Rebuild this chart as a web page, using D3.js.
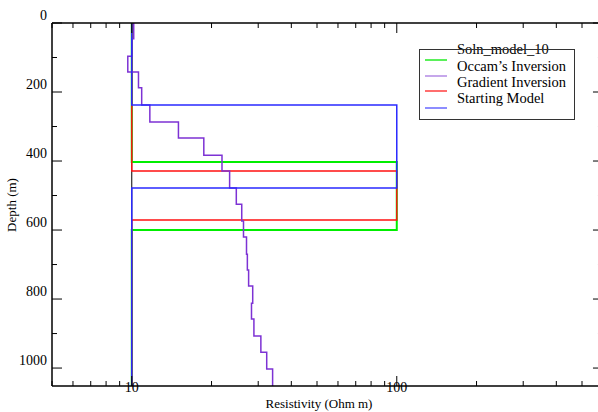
<!DOCTYPE html>
<html><head><meta charset="utf-8">
<script src="https://cdn.jsdelivr.net/npm/d3@7"></script>
<style>
html,body{margin:0;padding:0;background:#fff;overflow:hidden}
text{font-family:"Liberation Serif","Times New Roman",serif;fill:#000}
</style></head>
<body><svg id="c" width="598" height="412"></svg>
<script>
// ---- data ----
const gradientDepths = [0,46,96,142,188,238,287,333,383,429,478,525,574,620,670,716,762,812,858,907,954,1003,1052];
const gradientRes    = [10.17,10.0,9.66,10.6,10.9,11.7,15.0,18.7,21.9,23.4,24.8,26.0,26.4,27.1,27.3,27.6,28.6,28.3,28.9,30.7,32.3,34.0];
const occamDepths    = [0,403,600,1052];
const occamRes       = [10,100,10];
const soln10Depths   = [0,1052];
const soln10Res      = [10];
const startDepths    = [0,238,478,1052];
const startRes       = [10,100,10];
const redDepths      = [0,429,571,1052];
const redRes         = [10,100,10];
const yTicksMajor    = [0,200,400,600,800,1000];
const xTickLabels    = [10,100];
const legendLabels   = ["Soln_model_10","Occam\u2019s Inversion","Gradient Inversion","Starting Model"];
const legendColors   = ["#00e800","#a878e0","#ff2020","#5050ff"];

// ---- layout ----
const svg = d3.select("#c");
const L = 52, T = 23, B = 386;
const x = d3.scaleLog().domain([5, 600]).range([L, L + 265 * Math.log10(600/5)]);
const y = d3.scaleLinear().domain([0, 1052]).range([T, B]);
const R = x.range()[1];

function steps(depths, res){
  const pts = [];
  res.forEach((r,i)=>{ pts.push([r, depths[i]]); pts.push([r, depths[i+1]]); });
  return pts;
}
const line = d3.line().x(d=>x(d[0])).y(d=>y(d[1]));

const g = svg.append("g");
// model curves
const series = [
  {d:soln10Depths, r:soln10Res, c:"#000", w:1},
  {d:occamDepths, r:occamRes, c:"#00ee00", w:2},
  {d:redDepths, r:redRes, c:"#ff1010", w:1.4},
  {d:gradientDepths, r:gradientRes, c:"#7d32d4", w:1.5},
  {d:startDepths, r:startRes, c:"#2a2aff", w:1.5}
];
series.forEach(s=>{
  g.append("path").attr("d", line(steps(s.d, s.r)))
   .attr("fill","none").attr("stroke", s.c).attr("stroke-width", s.w);
});

// axes frame
const ax = svg.append("g").attr("stroke","#000").attr("stroke-width",1.5);
ax.append("line").attr("x1",L).attr("x2",L).attr("y1",T).attr("y2",B);
ax.append("line").attr("x1",L).attr("x2",R).attr("y1",T).attr("y2",T);
ax.append("line").attr("x1",L).attr("x2",R).attr("y1",B).attr("y2",B);
ax.append("line").attr("x1",R).attr("x2",R).attr("y1",T).attr("y2",B);

// y ticks
const yMinor = d3.range(100, 1052, 200);
const tk = svg.append("g").attr("stroke","#000").attr("stroke-width",1);
yTicksMajor.forEach(v=>{
  tk.append("line").attr("x1",L).attr("x2",L+10).attr("y1",y(v)).attr("y2",y(v));
  tk.append("line").attr("x1",R).attr("x2",R-10).attr("y1",y(v)).attr("y2",y(v));
});
yMinor.forEach(v=>{
  tk.append("line").attr("x1",L).attr("x2",L+5).attr("y1",y(v)).attr("y2",y(v));
  tk.append("line").attr("x1",R).attr("x2",R-5).attr("y1",y(v)).attr("y2",y(v));
});
// x ticks
const xAll = x.ticks();
xAll.forEach(v=>{
  const major = (v===10 || v===100);
  const len = major ? 10 : 5;
  tk.append("line").attr("x1",x(v)).attr("x2",x(v)).attr("y1",B).attr("y2",B-len);
  tk.append("line").attr("x1",x(v)).attr("x2",x(v)).attr("y1",T).attr("y2",T+len);
});

// labels
const lab = svg.append("g").attr("font-size","14px");
yTicksMajor.forEach(v=>{
  lab.append("text").attr("x",47).attr("y",y(v)-3).attr("text-anchor","end").text(v);
});
xTickLabels.forEach(v=>{
  lab.append("text").attr("x",x(v)).attr("y",392).attr("text-anchor","middle").text(v);
});
lab.append("text").attr("x",319).attr("y",408).attr("text-anchor","middle").attr("font-size","13px").text("Resistivity (Ohm m)");
lab.append("text").attr("transform","translate(16,205) rotate(-90)").attr("text-anchor","middle").attr("font-size","13px").text("Depth (m)");

// legend
const lg = svg.append("g");
lg.append("rect").attr("x",419.5).attr("y",49.5).attr("width",155).attr("height",70)
  .attr("fill","none").attr("stroke","#333").attr("stroke-width",1);
const lineYs = [60,76,91,108];
const textYs = [54,71,87,103];
legendColors.forEach((c,i)=>{
  lg.append("line").attr("x1",425).attr("x2",447).attr("y1",lineYs[i]).attr("y2",lineYs[i])
    .attr("stroke",c).attr("stroke-width",1.3);
});
legendLabels.forEach((t,i)=>{
  lg.append("text").attr("x",457).attr("y",textYs[i]).attr("font-size","14.5px").text(t);
});
// redraw box top line through first label
lg.append("line").attr("x1",419).attr("x2",575).attr("y1",49.5).attr("y2",49.5).attr("stroke","#333").attr("stroke-width",1);
</script></body></html>
